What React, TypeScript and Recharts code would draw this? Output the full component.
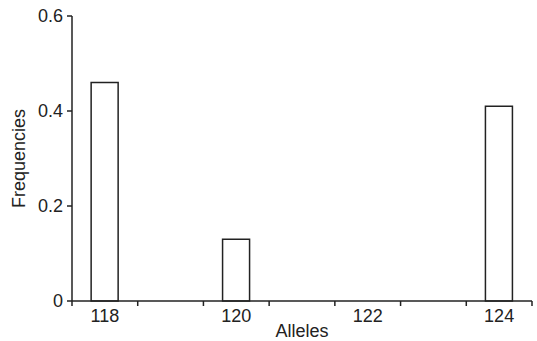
import { BarChart, Bar, XAxis, YAxis } from 'recharts';

const alleles = [118, 120, 124];
const frequencies = [0.46, 0.13, 0.41];
const boundaryTicks = [117.5, 118.5, 119.5, 120.5, 121.5, 122.5, 123.5, 124.5];
const labelTicks = [118, 120, 122, 124];
const yTicks = [0, 0.2, 0.4, 0.6];

const data = alleles.map((a, i) => ({ allele: a, freq: frequencies[i] }));

const INK = '#222';
const FONT = '"Liberation Sans", Arial, sans-serif';
const tickStyle = { fontSize: 18, fill: INK, fontFamily: FONT };

const YLabel = ({ viewBox }: any) => {
  const x = viewBox.x + 19;
  const y = viewBox.y + viewBox.height / 2;
  return (
    <text
      x={x}
      y={y}
      transform={`rotate(-90, ${x}, ${y})`}
      textAnchor="middle"
      dominantBaseline="central"
      fontSize={18}
      fill={INK}
      fontFamily={FONT}
    >
      Frequencies
    </text>
  );
};

// boundary axis only draws tick marks, no text
const NoText = () => <g />;

export default function App() {
  return (
    <div style={{ position: 'absolute', left: 0, top: 0, background: '#fff' }}>
      <BarChart
        width={537}
        height={341}
        data={data}
        margin={{ top: 16, right: 5, bottom: 0, left: 0 }}
      >
        <XAxis
          xAxisId="grid"
          dataKey="allele"
          type="number"
          domain={[117.5, 124.5]}
          ticks={boundaryTicks}
          tick={<NoText />}
          interval={0}
          tickSize={5}
          height={1}
          axisLine={{ stroke: INK, strokeWidth: 1.5 }}
          tickLine={{ stroke: INK, strokeWidth: 1.5 }}
        />
        <XAxis
          xAxisId="lbl"
          dataKey="allele"
          type="number"
          domain={[117.5, 124.5]}
          ticks={labelTicks}
          interval={0}
          axisLine={false}
          tickLine={false}
          tickSize={5}
          tickMargin={2}
          height={39}
          tick={tickStyle}
          label={{ value: 'Alleles', position: 'insideBottom', offset: 4, fontSize: 18, fill: INK, fontFamily: FONT }}
        />
        <YAxis
          width={72}
          domain={[0, 0.6]}
          ticks={yTicks}
          tickSize={5}
          tickMargin={4}
          tick={tickStyle}
          axisLine={{ stroke: INK, strokeWidth: 1.5 }}
          tickLine={{ stroke: INK, strokeWidth: 1.5 }}
          label={<YLabel />}
        />
        <Bar
          xAxisId="grid"
          dataKey="freq"
          barSize={27}
          fill="#fff"
          stroke={INK}
          strokeWidth={1.5}
          isAnimationActive={false}
        />
      </BarChart>
    </div>
  );
}
